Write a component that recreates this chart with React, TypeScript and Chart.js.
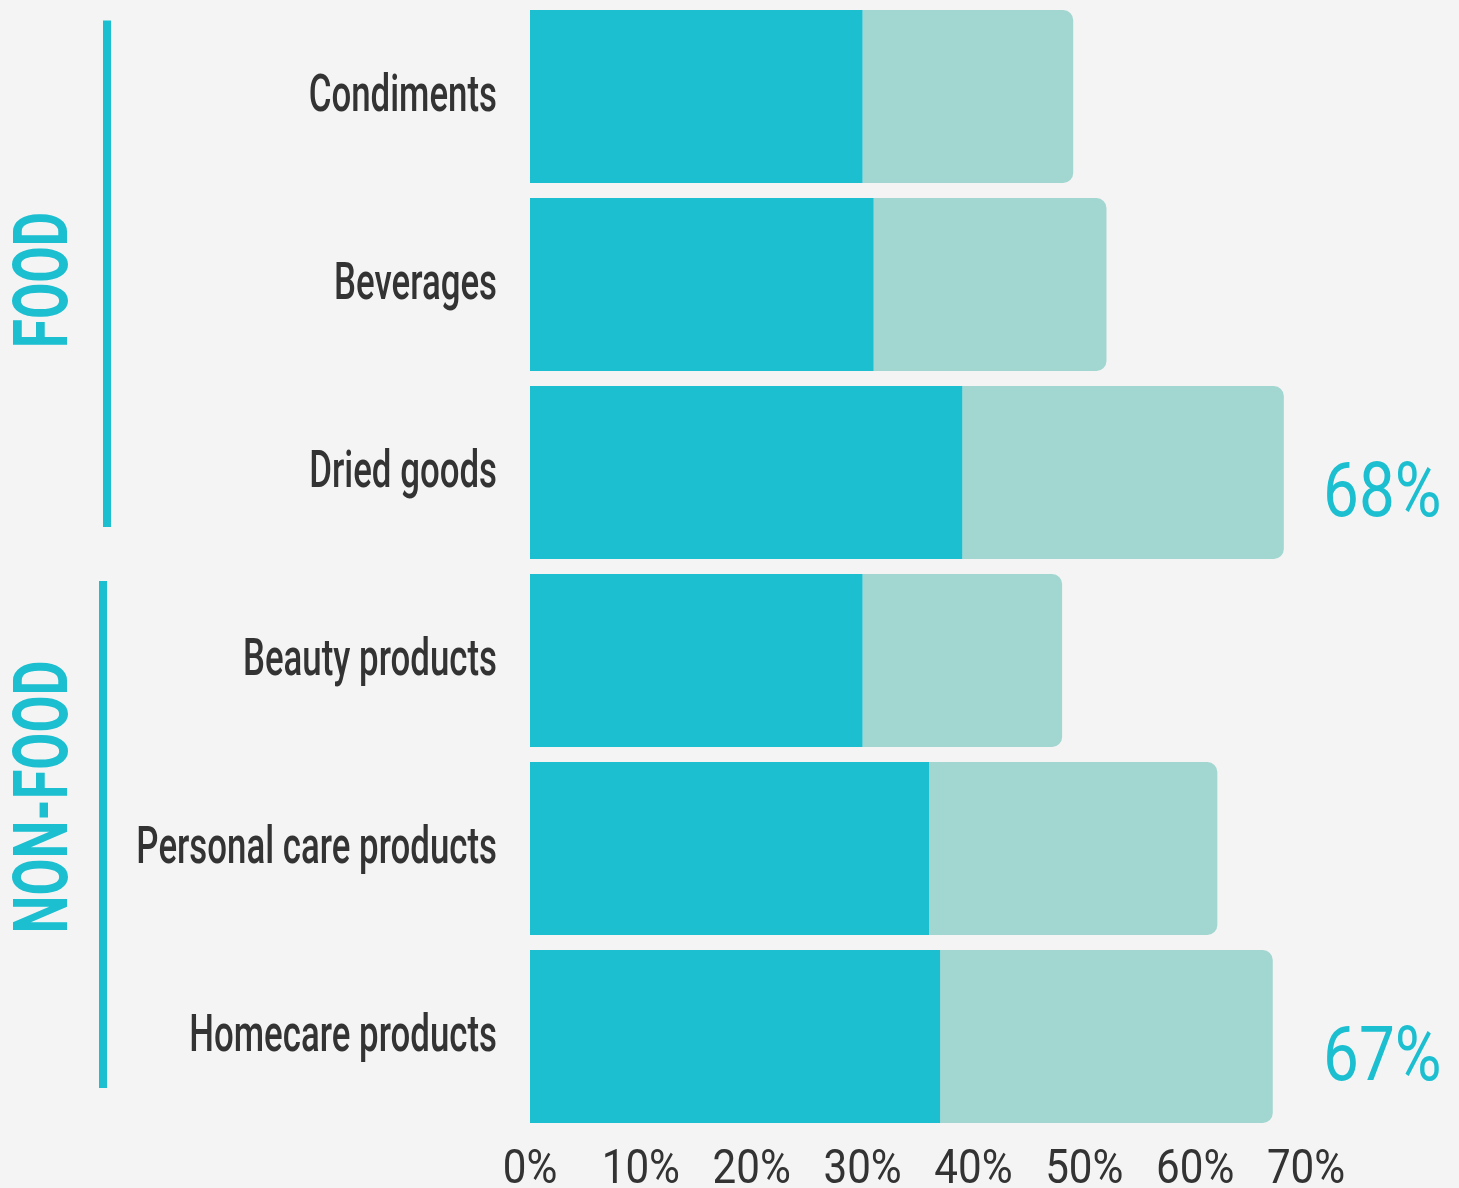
import React, { useEffect, useRef } from "react";
import { Chart, registerables } from "chart.js";

Chart.register(...registerables);

const categories = [
  "Condiments",
  "Beverages",
  "Dried goods",
  "Beauty products",
  "Personal care products",
  "Homecare products",
];
const darkValues = [30, 31, 39, 30, 36, 37];
const lightValues = [19, 21, 29, 18, 26, 30];
const calloutLabels = ["", "", "68%", "", "", "67%"];
const xTicks = [0, 10, 20, 30, 40, 50, 60, 70];
const xTickLabels = ["0%", "10%", "20%", "30%", "40%", "50%", "60%", "70%"];
const groups = [
  { name: "FOOD", from: 0, to: 2 },
  { name: "NON-FOOD", from: 3, to: 5 },
];

const TEAL = "#1bbfd0";
const LIGHT = "#a2d6d0";
const TEXT = "#333333";
const BG = "#f4f4f4";
const FONT = "Roboto, 'DejaVu Sans Condensed', sans-serif";

function drawSqueezed(ctx: any, text: string, x: number, y: number, sx: number, align: string) {
  ctx.save();
  ctx.translate(x, y);
  ctx.scale(sx, 1);
  ctx.textAlign = align;
  ctx.fillText(text, 0, 0);
  ctx.restore();
}

const decorPlugin = {
  id: "decor",
  beforeDraw(chart: any) {
    const { ctx, width, height } = chart;
    ctx.save();
    ctx.fillStyle = BG;
    ctx.fillRect(0, 0, width, height);
    ctx.restore();
  },
  afterDraw(chart: any) {
    const { ctx, chartArea } = chart;
    const y = chart.scales.y;
    const x = chart.scales.x;
    ctx.save();
    ctx.textBaseline = "alphabetic";
    // category labels (condensed look)
    ctx.fillStyle = TEXT;
    ctx.font = `500 52px ${FONT}`;
    y.getLabels().forEach((lab: string, i: number) => {
      const cy = y.getPixelForValue(i);
      drawSqueezed(ctx, lab, chartArea.left - 33, cy + 14.5, 0.67, "right");
    });
    // x tick labels (condensed look)
    ctx.font = `49px ${FONT}`;
    xTicks.forEach((v, i) => {
      drawSqueezed(ctx, xTickLabels[i], x.getPixelForValue(v), chartArea.bottom + 52.5, 0.86, "center");
    });
    // callouts
    ctx.fillStyle = TEAL;
    ctx.font = `76px ${FONT}`;
    calloutLabels.forEach((lab, i) => {
      if (!lab) return;
      const cy = y.getPixelForValue(i);
      drawSqueezed(ctx, lab, chartArea.right + 17, cy + 43, 0.84, "left");
    });
    // group lines & labels
    const half = (y.getPixelForValue(1) - y.getPixelForValue(0)) / 2;
    groups.forEach((g, gi) => {
      const top = y.getPixelForValue(g.from) - half;
      const bottom = y.getPixelForValue(g.to) + half;
      const lineX = gi === 0 ? 107 : 103;
      const lineTop = gi === 0 ? top + 18 : top + 14.5;
      const lineBottom = gi === 0 ? bottom - 39.5 : bottom - 42.5;
      ctx.fillStyle = TEAL;
      ctx.fillRect(lineX - 4, lineTop, 8, lineBottom - lineTop);
      const centerY = gi === 0 ? 280 : 797;
      const targetLen = gi === 0 ? 136 : 273;
      ctx.save();
      ctx.translate(67, centerY);
      ctx.rotate(-Math.PI / 2);
      ctx.font = `bold 76px ${FONT}`;
      const w = ctx.measureText(g.name).width;
      ctx.scale(targetLen / w, 1);
      ctx.textAlign = "center";
      ctx.fillText(g.name, 0, 0);
      ctx.restore();
    });
    ctx.restore();
  },
};

export default function App() {
  const ref = useRef<HTMLCanvasElement | null>(null);
  useEffect(() => {
    document.body.style.margin = "0";
    document.body.style.background = BG;
    const chart = new Chart(ref.current as HTMLCanvasElement, {
      type: "bar",
      data: {
        labels: categories,
        datasets: [
          {
            data: darkValues,
            backgroundColor: TEAL,
            borderWidth: 0,
            borderRadius: 0,
            categoryPercentage: 1,
            barPercentage: 0.92,
          },
          {
            data: lightValues,
            backgroundColor: LIGHT,
            borderWidth: 0,
            borderRadius: 10,
            borderSkipped: "start",
            categoryPercentage: 1,
            barPercentage: 0.92,
          },
        ],
      },
      options: {
        indexAxis: "y",
        animation: false,
        responsive: false,
        maintainAspectRatio: false,
        layout: { padding: { left: 0, right: 153, top: 2.5, bottom: 0 } },
        plugins: {
          legend: { display: false },
          tooltip: { enabled: false },
        },
        scales: {
          x: {
            stacked: true,
            min: 0,
            max: 70,
            grid: { display: false, drawTicks: false },
            border: { display: false },
            afterBuildTicks: (scale: any) => {
              scale.ticks = xTicks.map((v) => ({ value: v }));
            },
            afterFit: (scale: any) => {
              scale.height = 57.5;
              scale.paddingLeft = 0;
              scale.paddingRight = 0;
            },
            ticks: { display: false },
          },
          y: {
            stacked: true,
            grid: { display: false, drawTicks: false },
            border: { display: false },
            afterFit: (scale: any) => {
              scale.width = 530;
              scale.paddingTop = 0;
              scale.paddingBottom = 0;
            },
            ticks: { display: false },
          },
        },
      },
      plugins: [decorPlugin],
    } as any);
    return () => chart.destroy();
  }, []);
  return (
    <div style={{ position: "fixed", left: 0, top: 0, width: 1459, height: 1188, background: BG }}>
      <canvas ref={ref} width={1459} height={1188} style={{ display: "block", width: 1459, height: 1188 }} />
    </div>
  );
}
